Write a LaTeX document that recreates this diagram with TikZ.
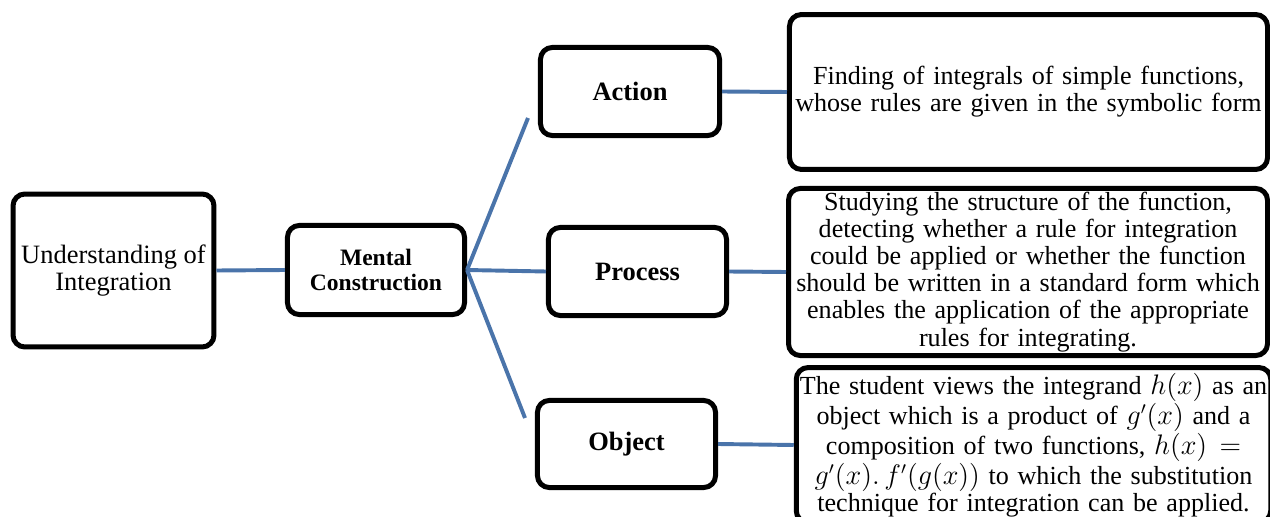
\documentclass[tikz,border=0pt]{standalone}
\usepackage{fontspec}
\setmainfont{Liberation Serif}
\definecolor{linkblue}{RGB}{74,116,170}
\tikzset{
  box/.style={draw=black, line width=2.55pt, rounded corners=6pt, fill=white,
              inner sep=0pt, align=center},
  stage/.style={box, font=\fontsize{13.5}{15.5}\selectfont\bfseries},
  desc/.style={box, font=\fontsize{13.3}{13.8}\selectfont, text width=242pt},
  conn/.style={draw=linkblue, line width=2pt},
}
\begin{document}
\begin{tikzpicture}[x=0.51pt, y=-0.51pt]
  \clip (0,0) rectangle (1270,517);
  \fill[white] (0,0) rectangle (1270,517);

  % left-hand concept boxes
  \node[box, minimum width=102.5pt, minimum height=78pt,
        font=\fontsize{13.5}{13.8}\selectfont] (und) at (113.5,270.5)
        {Understanding of\\Integration};
  \node[box, minimum width=90.3pt, minimum height=45.4pt,
        font=\fontsize{12}{13.2}\selectfont\bfseries] (men) at (376,270)
        {Mental\\Construction};

  % the three stages
  \node[stage, minimum width=91.3pt, minimum height=44.9pt] (act) at (630,91.5) {Action};
  \node[stage, minimum width=90.8pt, minimum height=44.9pt] (pro) at (637.5,271.5) {Process};
  \node[stage, minimum width=90.8pt, minimum height=44.4pt] (obj) at (626.5,444) {Object};

  % descriptions of each stage
  \node[desc, minimum width=243.8pt, minimum height=79pt] (dact) at (1028.5,92)
    {Finding of integrals of simple functions,\\
     whose rules are given in the symbolic form};
  \node[desc, minimum width=244.3pt, minimum height=85.2pt] (dpro) at (1028,272)
    {Studying the structure of the function,\\
     detecting whether a rule for integration\\
     could be applied or whether the function\\
     should be written in a standard form which\\
     enables the application of the appropriate\\
     rules for integrating.};
  \node[desc, minimum width=238.7pt, minimum height=79pt,
        font=\fontsize{13.3}{13.5}\selectfont] (dobj) at (1033.5,445)
    {The student views the integrand $h(x)$ as an\\
     object which is a product of $g'(x)$ and a\\
     composition of two functions, $h(x) =$\\
     $g'(x).\,f'(g(x))$ to which the substitution\\
     technique for integration can be applied.};

  % connectors
  \coordinate (fanup) at (528,118);
  \coordinate (fandown) at (525,418);
  \draw[conn] (und.east) -- (men.west);
  \draw[conn] (men.east) -- (fanup);
  \draw[conn] (men.east) -- (pro.west);
  \draw[conn] (men.east) -- (fandown);
  \draw[conn] (act.east) -- (dact.west);
  \draw[conn] (pro.east) -- (dpro.west);
  \draw[conn] (obj.east) -- (dobj.west);
\end{tikzpicture}
\end{document}
